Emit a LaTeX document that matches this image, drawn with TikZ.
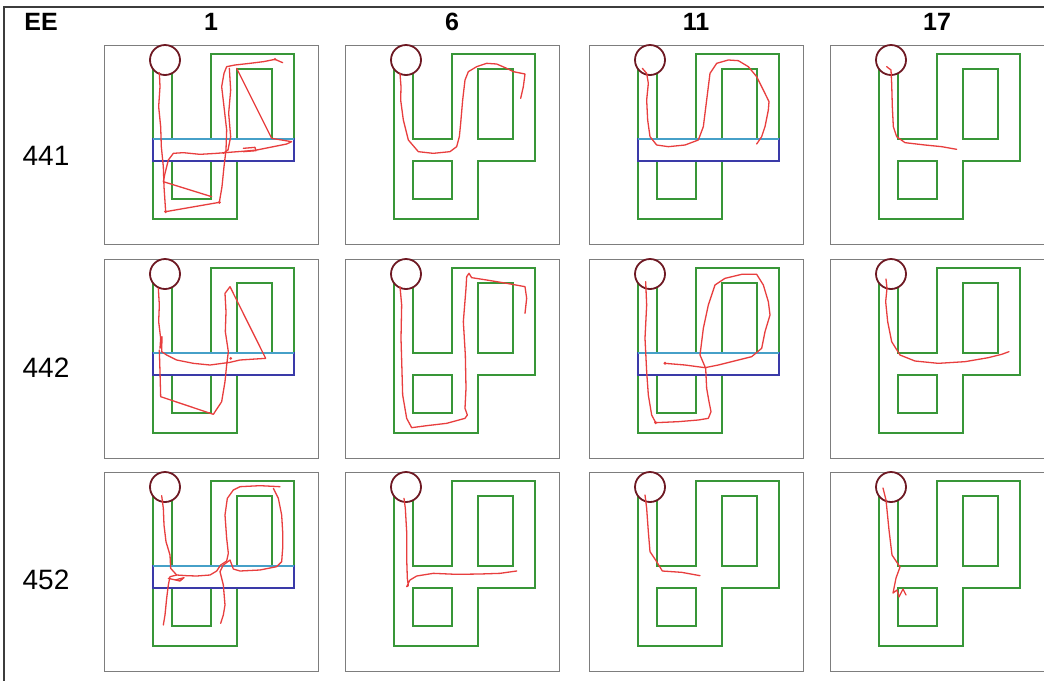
\documentclass[tikz,border=0pt]{standalone}
\usepackage{fontspec}
\setmainfont{Liberation Sans}
\definecolor{mazegreen}{RGB}{56,150,56}
\definecolor{tracered}{RGB}{232,62,62}
\definecolor{stripblue}{RGB}{58,58,168}
\definecolor{stripcyan}{RGB}{70,160,200}
\definecolor{startbrown}{RGB}{110,25,35}
\definecolor{boxgray}{RGB}{125,125,125}
\definecolor{framegray}{RGB}{60,60,60}
\tikzset{
  boxline/.style={draw=boxgray, line width=1.2pt},
  mazeline/.style={draw=mazegreen, line width=1.8pt},
  stripline/.style={draw=stripblue, line width=1.6pt},
  startring/.style={draw=startbrown, line width=1.8pt},
  tr/.style={draw=tracered, line width=1.3pt, line join=round, line cap=round},
  dot/.style={fill=tracered},
  hdr/.style={font=\bfseries\fontsize{25}{25}\selectfont, inner sep=0pt},
  rowlab/.style={font=\fontsize{28}{28}\selectfont, inner sep=0pt},
  zoomed/.style={x=0.33333pt, y=-0.33333pt},
  mazeplain/.pic={
    \draw[boxline] (0.5,0.5) rectangle (214.5,199.5);
    \draw[mazeline] (49,24) -- (49,174) -- (133,174) -- (133,116) -- (190,116)
      -- (190,9) -- (107,9) -- (107,94) -- (68,94) -- (68,28);
    \draw[mazeline] (133,24) rectangle (168,94);
    \draw[mazeline] (68,116) rectangle (107,154);
    \draw[startring] (61,15) circle[radius=15pt];
  },
  mazestrip/.pic={
    \draw[boxline] (0.5,0.5) rectangle (214.5,199.5);
    \draw[mazeline] (49,24) -- (49,174) -- (133,174) -- (133,116) -- (190,116)
      -- (190,9) -- (107,9) -- (107,94) -- (68,94) -- (68,28);
    \draw[mazeline] (133,24) rectangle (168,94);
    \draw[mazeline] (68,116) rectangle (107,154);
    \draw[stripline] (49,94) rectangle (190,116);
    \draw[draw=stripcyan, line width=1.6pt] (49,94) -- (190,94);
    \draw[startring] (61,15) circle[radius=15pt];
  }
}
\begin{document}
\begin{tikzpicture}[x=1pt,y=-1pt]
\useasboundingbox (0,0) rectangle (1044,681);
\fill[white] (0,0) rectangle (1044,681);
% outer frame
\draw[draw=framegray, line width=1.4pt] (1044,7) -- (4,7) -- (4,681);

% header
\node[hdr] (hEE) at (41,22) {EE};
\node[hdr] (h1) at (211,22) {1};
\node[hdr] (h6) at (452,22) {6};
\node[hdr] (h11) at (696,22) {11};
\node[hdr] (h17) at (937,22) {17};

% row labels
\node[rowlab] (r441) at (46,156) {441};
\node[rowlab] (r442) at (46,368) {442};
\node[rowlab] (r452) at (46,580) {452};

% panels
\pic at (104,45) {mazestrip};
\pic at (345,45) {mazeplain};
\pic at (589,45) {mazestrip};
\pic at (830,45) {mazeplain};
\pic at (104,259) {mazestrip};
\pic at (345,259) {mazeplain};
\pic at (589,259) {mazestrip};
\pic at (830,259) {mazeplain};
\pic at (104,472) {mazestrip};
\pic at (345,472) {mazeplain};
\pic at (589,472) {mazeplain};
\pic at (830,472) {mazeplain};

% ---- row 441 ----
\begin{scope}[xshift=100pt, yshift=-40pt, zoomed]
\draw[tr] (178,98) -- (180,140) -- (176,200) -- (182,260) -- (184,320) -- (190,380) -- (192,440) -- (197,515)
  -- (358,487) -- (366,440) -- (372,380) -- (378,330) -- (380,270) -- (372,200) -- (365,140) -- (372,100)
  -- (380,80) -- (405,75) -- (450,70) -- (490,65) -- (525,58) -- (548,68);
\draw[tr] (410,85) -- (515,295) -- (575,305) -- (560,312) -- (520,320) -- (470,330) -- (440,333) -- (400,336)
  -- (350,340) -- (300,343) -- (250,338) -- (220,340) -- (205,360) -- (195,400) -- (190,425) -- (335,470);
\draw[tr] (388,85) -- (392,150) -- (386,220) -- (392,290) -- (384,330) -- (370,340);
\draw[tr] (430,325) -- (465,322) -- (468,332) -- (430,335);
\fill[dot] (197,515) circle[radius=1.6pt];
\fill[dot] (358,487) circle[radius=1.6pt];
\fill[dot] (525,58) circle[radius=1.4pt];
\end{scope}
\begin{scope}[xshift=340pt, yshift=-40pt, zoomed]
\draw[tr] (180,100) -- (183,140) -- (182,180) -- (190,240) -- (205,300) -- (235,335) -- (280,340) -- (330,335)
  -- (350,320) -- (358,290) -- (362,250) -- (368,180) -- (375,120) -- (385,95) -- (410,80) -- (440,70)
  -- (470,72) -- (500,85) -- (520,95) -- (555,102) -- (550,140) -- (542,175);
\end{scope}
\begin{scope}[xshift=585pt, yshift=-40pt, zoomed]
\draw[tr] (172,85) -- (185,100) -- (190,130) -- (185,180) -- (188,240) -- (195,290) -- (215,315) -- (250,320)
  -- (300,315) -- (340,300) -- (355,260) -- (365,180) -- (375,100) -- (395,70) -- (430,60) -- (460,62)
  -- (490,80) -- (515,110) -- (535,150) -- (552,185) -- (550,210) -- (540,260) -- (530,290) -- (515,312);
\end{scope}
\begin{scope}[xshift=825pt, yshift=-40pt, zoomed]
\draw[tr] (185,80) -- (198,90) -- (200,130) -- (202,200) -- (205,260) -- (215,290) -- (240,308) -- (300,315)
  -- (350,320) -- (395,328);
\end{scope}

% ---- row 442 ----
\begin{scope}[xshift=100pt, yshift=-255pt, zoomed]
\draw[tr] (175,100) -- (178,150) -- (176,200) -- (182,250) -- (180,280) -- (186,245) -- (185,290) -- (200,300)
  -- (230,315) -- (280,325) -- (330,330) -- (390,322) -- (420,315) -- (497,310) -- (390,95) -- (375,115)
  -- (378,170) -- (376,230) -- (385,290) -- (380,330) -- (375,380) -- (365,440) -- (340,478) -- (182,425)
  -- (180,350) -- (178,285);
\fill[dot] (392,310) circle[radius=1.5pt];
\end{scope}
\begin{scope}[xshift=340pt, yshift=-255pt, zoomed]
\draw[tr] (180,95) -- (185,150) -- (183,250) -- (186,350) -- (188,420) -- (200,490) -- (215,518) -- (260,512)
  -- (320,505) -- (375,490) -- (382,480) -- (375,460) -- (378,400) -- (376,300) -- (370,200) -- (378,100)
  -- (380,65) -- (387,55) -- (395,68) -- (440,75) -- (500,85) -- (555,95) -- (560,130) -- (555,175);
\end{scope}
\begin{scope}[xshift=585pt, yshift=-255pt, zoomed]
\draw[tr] (182,80) -- (185,150) -- (180,250) -- (185,350) -- (190,420) -- (200,480) -- (212,503) -- (280,500)
  -- (340,495) -- (370,490) -- (378,470) -- (372,440) -- (365,400) -- (362,340) -- (345,300) -- (355,220)
  -- (370,150) -- (390,90) -- (420,70) -- (470,58) -- (515,58) -- (535,90) -- (550,140) -- (555,180)
  -- (540,230) -- (530,280) -- (500,305) -- (440,320) -- (400,330) -- (360,338) -- (300,330) -- (240,325);
\fill[dot] (212,503) circle[radius=1.6pt];
\fill[dot] (240,325) circle[radius=1.6pt];
\end{scope}
\begin{scope}[xshift=825pt, yshift=-255pt, zoomed]
\draw[tr] (183,72) -- (186,100) -- (182,140) -- (188,200) -- (200,260) -- (225,300) -- (270,318) -- (340,325)
  -- (420,320) -- (490,308) -- (530,298) -- (552,290);
\end{scope}

% ---- row 452 ----
\begin{scope}[xshift=100pt, yshift=-465pt, zoomed]
\draw[tr] (185,92) -- (190,130) -- (192,180) -- (198,230) -- (210,270) -- (212,310) -- (230,330) -- (260,332)
  -- (290,333) -- (330,330) -- (350,318) -- (362,300) -- (380,288) -- (385,265) -- (380,220) -- (375,150)
  -- (382,100) -- (400,75) -- (420,65) -- (480,62) -- (540,65);
\draw[tr] (520,70) -- (535,100) -- (545,150) -- (548,200) -- (548,250) -- (545,290) -- (530,305) -- (480,315)
  -- (420,318) -- (400,312) -- (390,285) -- (370,300) -- (360,320) -- (370,360) -- (375,420) -- (370,450)
  -- (362,475);
\draw[tr] (230,330) -- (210,335) -- (205,360) -- (200,400) -- (195,450) -- (190,480);
\draw[tr] (205,340) -- (240,348) -- (252,338) -- (225,345);
\end{scope}
\begin{scope}[xshift=340pt, yshift=-465pt, zoomed]
\draw[tr] (192,100) -- (196,130) -- (200,200) -- (200,280) -- (202,340) -- (205,362) -- (200,365) -- (210,345)
  -- (230,333) -- (280,325) -- (350,328) -- (420,327) -- (480,325) -- (530,318);
\end{scope}
\begin{scope}[xshift=585pt, yshift=-465pt, zoomed]
\draw[tr] (180,90) -- (185,130) -- (190,200) -- (195,260) -- (215,290) -- (232,318) -- (290,322) -- (345,332);
\end{scope}
\draw[tr] (883,488) -- (886,500) -- (889,530) -- (892,555) -- (900,567) -- (896,578) -- (893,593) -- (897,590)
  -- (899,597) -- (903,589) -- (906,595);

\end{tikzpicture}
\end{document}
